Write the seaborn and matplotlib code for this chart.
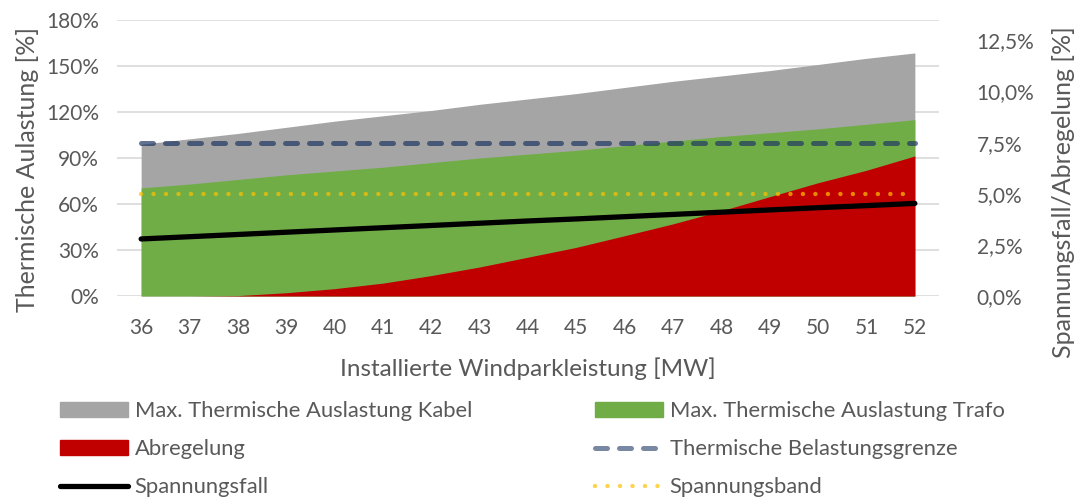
import matplotlib
matplotlib.use("Agg")
import matplotlib.pyplot as plt
from matplotlib.lines import Line2D
from matplotlib.patches import Patch
import seaborn as sns
import pandas as pd

# installed wind farm capacity [MW]
leistung = [36, 37, 38, 39, 40, 41, 42, 43, 44, 45, 46, 47, 48, 49, 50, 51, 52]

# left axis: thermal loading [%]
auslastung_kabel = [99, 102.5, 106, 110, 114, 117.5, 121, 125, 128.5, 132, 136, 140,
                    143.5, 147, 151, 155, 158.5]
auslastung_trafo = [70.5, 73, 76, 79, 81.5, 84, 87, 90, 92.5, 95, 98, 101, 104, 106.5,
                    109, 112, 115]
belastungsgrenze = [100] * len(leistung)

# right axis: voltage drop / curtailment [%]
abregelung = [0, 0, 0.02, 0.16, 0.36, 0.63, 1.0, 1.42, 1.9, 2.38, 2.95, 3.53, 4.17,
              4.86, 5.54, 6.15, 6.85]
spannungsfall = [2.79, 2.90, 3.01, 3.12, 3.23, 3.34, 3.45, 3.56, 3.67, 3.77, 3.88,
                 3.99, 4.10, 4.21, 4.32, 4.42, 4.53]
spannungsband = [5.0] * len(leistung)

left_ticks = [0, 30, 60, 90, 120, 150, 180]
right_ticks = [0, 2.5, 5.0, 7.5, 10.0, 12.5]

df = pd.DataFrame({
    "leistung": leistung,
    "kabel": auslastung_kabel,
    "trafo": auslastung_trafo,
    "grenze": belastungsgrenze,
    "abregelung": abregelung,
    "spannungsfall": spannungsfall,
    "band": spannungsband,
})

sns.set_theme(style="white")
plt.rcParams["font.family"] = ["Lato", "DejaVu Sans"]

TXT = "#595959"
C_KABEL = "#A5A5A5"
C_TRAFO = "#70AD47"
C_ROT = "#C00000"
C_GRENZE = "#1F3864"
C_BAND = "#FFC000"

DASH = (0, (2.4, 2.4))
DOT = (0, (0.01, 2.8))

fig = plt.figure(figsize=(10.76, 4.97), dpi=100)
ax = fig.add_axes([0.1087, 0.4044, 0.8727 - 0.1087, 0.9598 - 0.4044])
ax2 = ax.twinx()

# primary axis: thermal loading areas and limit
ax.fill_between(df["leistung"], 0, df["kabel"], color=C_KABEL, lw=0)
ax.fill_between(df["leistung"], 0, df["trafo"], color=C_TRAFO, lw=0)
sns.lineplot(data=df, x="leistung", y="grenze", ax=ax, color=C_GRENZE, alpha=0.7,
             lw=3.6, linestyle=DASH, dash_capstyle="round")

# secondary axis: curtailment, voltage drop, voltage band
ax2.fill_between(df["leistung"], 0, df["abregelung"], color=C_ROT, lw=0)
sns.lineplot(data=df, x="leistung", y="band", ax=ax2, color=C_BAND, alpha=0.7,
             lw=3.2, linestyle=DOT, dash_capstyle="round")
sns.lineplot(data=df, x="leistung", y="spannungsfall", ax=ax2, color="black",
             lw=3.8, solid_capstyle="round")

ax.set_xlim(35.5, 52.5)
ax.set_ylim(0, 180)
ax2.set_ylim(0, 13.5)

ax.set_xticks(leistung)
ax.set_xticklabels([str(v) for v in leistung])
ax.set_yticks(left_ticks)
ax.set_yticklabels([f"{v}%" for v in left_ticks])
ax2.set_yticks(right_ticks)
ax2.set_yticklabels([f"{v:.1f}%".replace(".", ",") for v in right_ticks])

ax.yaxis.grid(True, color="#D9D9D9", lw=1.2)
ax.xaxis.grid(False)
ax.set_axisbelow(True)
ax2.grid(False)

for a in (ax, ax2):
    for s in a.spines.values():
        s.set_visible(False)
    a.tick_params(length=0, labelsize=15, colors=TXT)
ax.tick_params(axis="x", pad=16)
ax.tick_params(axis="y", pad=13)
ax2.tick_params(axis="y", pad=27)

ax.set_xlabel("Installierte Windparkleistung [MW]", fontsize=17.5, color=TXT, labelpad=14)
ax.set_ylabel("Thermische Aulastung [%]", fontsize=18, color=TXT, labelpad=5)
ax2.set_ylabel("Spannungsfall/Abregelung [%]", fontsize=18, color=TXT, labelpad=13)
ax.yaxis.label.set_y(0.46)
ax2.yaxis.label.set_y(0.375)

leg_kw = dict(frameon=False, fontsize=15.8, labelcolor=TXT, handlelength=3.1,
              handleheight=0.65, handletextpad=0.3, labelspacing=0.83,
              borderaxespad=0, borderpad=0)
col1 = [Patch(color=C_KABEL), Patch(color=C_ROT),
        Line2D([], [], color="black", lw=3.8, solid_capstyle="round")]
col2 = [Patch(color=C_TRAFO),
        Line2D([], [], color=C_GRENZE, alpha=0.6, lw=3.6, linestyle=DASH,
               dash_capstyle="round"),
        Line2D([], [], color=C_BAND, alpha=0.7, lw=3.2, linestyle=DOT,
               dash_capstyle="round")]
fig.legend(col1, ["Max. Thermische Auslastung Kabel", "Abregelung", "Spannungsfall"],
           loc="upper left", bbox_to_anchor=(60 / 1076, 1 - 401 / 497), **leg_kw)
fig.legend(col2, ["Max. Thermische Auslastung Trafo", "Thermische Belastungsgrenze",
                  "Spannungsband"],
           loc="upper left", bbox_to_anchor=(595 / 1076, 1 - 401 / 497), **leg_kw)

fig.savefig("out.png", dpi=100)
